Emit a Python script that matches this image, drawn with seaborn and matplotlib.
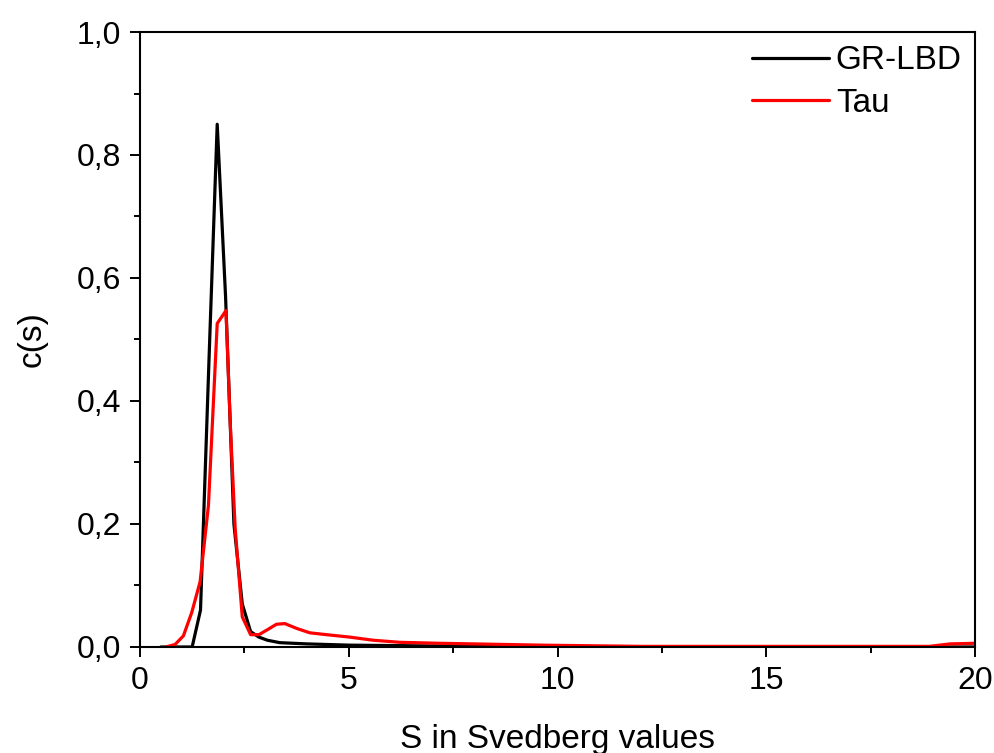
import pandas as pd
import numpy as np

import matplotlib
matplotlib.use("Agg")
import matplotlib.pyplot as plt
from matplotlib.ticker import MultipleLocator, FuncFormatter
import seaborn as sns


# c(s) distributions
s_gr = [0.5, 1.25, 1.45, 1.65, 1.85, 2.05, 2.25, 2.45, 2.65, 2.85, 3.05,
        3.35, 4.0, 5.0, 6.5, 8.0, 10.0, 20.0]
c_gr = [0.0, 0.0, 0.06, 0.46, 0.85, 0.57, 0.2, 0.07, 0.025, 0.016, 0.011,
        0.007, 0.005, 0.003, 0.002, 0.001, 0.0, 0.0]

s_tau = [0.62, 0.84, 1.04, 1.24, 1.44, 1.64, 1.85, 2.06, 2.16, 2.28, 2.45,
         2.65, 2.85, 3.05, 3.27, 3.47, 3.76, 4.07, 4.47, 5.03, 5.58, 6.22,
         7.18, 8.0, 9.6, 12.0, 15.0, 18.9, 19.4, 20.0]
c_tau = [0.0, 0.004, 0.018, 0.056, 0.106, 0.23, 0.526, 0.547, 0.367, 0.193,
         0.049, 0.02, 0.02, 0.028, 0.037, 0.038, 0.03, 0.023, 0.02, 0.016,
         0.011, 0.0076, 0.006, 0.005, 0.003, 0.001, 0.001, 0.001, 0.005,
         0.006]

df = pd.concat([
    pd.DataFrame({'S': s_gr, 'c': c_gr, 'sample': 'GR-LBD'}),
    pd.DataFrame({'S': s_tau, 'c': c_tau, 'sample': 'Tau'}),
])

sns.set_style("ticks")
plt.rcParams['font.family'] = ['Liberation Sans', 'DejaVu Sans']
plt.rcParams['text.color'] = 'black'
plt.rcParams['axes.labelcolor'] = 'black'
plt.rcParams['xtick.color'] = 'black'
plt.rcParams['ytick.color'] = 'black'

fig = plt.figure(figsize=(9.94, 7.53), dpi=100)
ax = fig.add_axes([0.1408, 0.1408, 0.8402, 0.8167])

sns.lineplot(data=df, x='S', y='c', hue='sample', sort=False,
             palette={'GR-LBD': 'black', 'Tau': '#ff0000'},
             linewidth=2.3, ax=ax)

ax.set_xlim(0, 20)
ax.set_ylim(0, 1.0)
ax.xaxis.set_major_locator(MultipleLocator(5))
ax.xaxis.set_minor_locator(MultipleLocator(2.5))
ax.yaxis.set_major_locator(MultipleLocator(0.2))
ax.yaxis.set_minor_locator(MultipleLocator(0.1))
ax.yaxis.set_major_formatter(FuncFormatter(lambda v, p: f"{v:.1f}".replace('.', ',')))
ax.tick_params(which='major', direction='out', length=7.5, width=1.4,
               labelsize=23, pad=6, top=False, right=False)
ax.tick_params(which='minor', direction='out', length=4, width=1.4,
               top=False, right=False)
for sp in ax.spines.values():
    sp.set_linewidth(1.5)
    sp.set_color('black')

ax.set_xlabel('S in Svedberg values', fontsize=24, labelpad=20)
ax.set_ylabel('c(s)', fontsize=24, labelpad=21)

ax.legend(title=None, frameon=False, fontsize=24, loc='upper right',
          handlelength=2.3, handletextpad=0.2, borderaxespad=0.15,
          borderpad=0.25, labelspacing=0.35)

fig.savefig('out.png', dpi=100)
